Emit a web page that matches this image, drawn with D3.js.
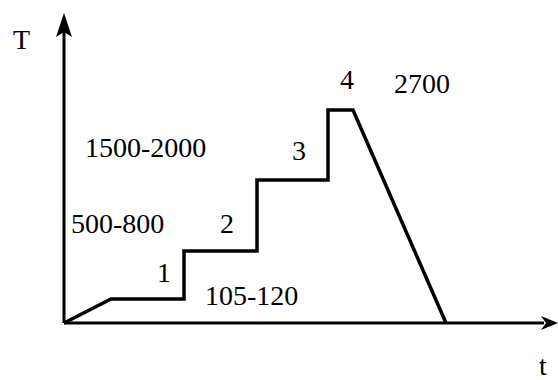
<!DOCTYPE html>
<html>
<head>
<meta charset="utf-8">
<script src="https://cdn.jsdelivr.net/npm/d3@7"></script>
<style>
  html, body { margin: 0; padding: 0; background: #fff; }
</style>
</head>
<body>
<div id="chart"></div>
<script>
// heating profile, time and temperature in relative units
var times = [0, 47, 120, 120, 193, 193, 264, 264, 289, 382];
var temps = [0, 24, 24, 72, 72, 143, 143, 213, 213, 0];

// stage numbers and temperature ranges
var stageLabels = ["1", "2", "3", "4"];
var rangeLabels = ["105-120", "500-800", "1500-2000", "2700"];
var axisLabels = ["t", "T"];

var width = 558, height = 380;
var svg = d3.select("#chart").append("svg")
  .attr("width", width)
  .attr("height", height);

var x = d3.scaleLinear().domain([0, 494]).range([64, 558]);
var y = d3.scaleLinear().domain([0, 310]).range([323, 13]);

// axes with arrow heads
svg.append("line")
  .attr("x1", x(0)).attr("y1", y(0)).attr("x2", x(480)).attr("y2", y(0))
  .attr("stroke", "#000").attr("stroke-width", 3);
svg.append("line")
  .attr("x1", x(0)).attr("y1", y(0)).attr("x2", x(0)).attr("y2", y(295))
  .attr("stroke", "#000").attr("stroke-width", 3);

var tipX = x(494), tipY = y(310);
svg.append("path")
  .attr("d", "M" + tipX + "," + y(0) + " L" + (tipX - 17) + "," + (y(0) - 7) +
    " L" + (tipX - 12) + "," + y(0) + " L" + (tipX - 17) + "," + (y(0) + 7) + "Z")
  .attr("fill", "#000");
svg.append("path")
  .attr("d", "M" + x(0) + "," + tipY + " L" + (x(0) - 8) + "," + (tipY + 24) +
    " L" + x(0) + "," + (tipY + 19) + " L" + (x(0) + 8) + "," + (tipY + 24) + "Z")
  .attr("fill", "#000");

// the profile line
var pts = times.map(function(t, i) { return [t, temps[i]]; });
var line = d3.line()
  .x(function(d) { return x(d[0]); })
  .y(function(d) { return y(d[1]); });

svg.append("path")
  .attr("d", line(pts))
  .attr("fill", "none")
  .attr("stroke", "#000")
  .attr("stroke-width", 3.5)
  .attr("stroke-linejoin", "miter")
  .attr("stroke-linecap", "butt");

// text
var fs = 28;
function label(txt, px, py) {
  svg.append("text")
    .attr("x", px).attr("y", py)
    .attr("font-family", "Liberation Serif, DejaVu Serif, serif")
    .attr("font-size", fs)
    .attr("fill", "#000")
    .text(txt);
}

label(axisLabels[1], 13, 49);
label(axisLabels[0], 539, 375);

label(stageLabels[0], x(93), y(41));
label(stageLabels[1], x(156), y(90));
label(stageLabels[2], x(228), y(163));
label(stageLabels[3], x(276), y(234));

label(rangeLabels[0], x(141), y(18));
label(rangeLabels[1], x(7), y(90));
label(rangeLabels[2], x(21), y(166));
label(rangeLabels[3], x(330), y(230));
</script>
</body>
</html>
